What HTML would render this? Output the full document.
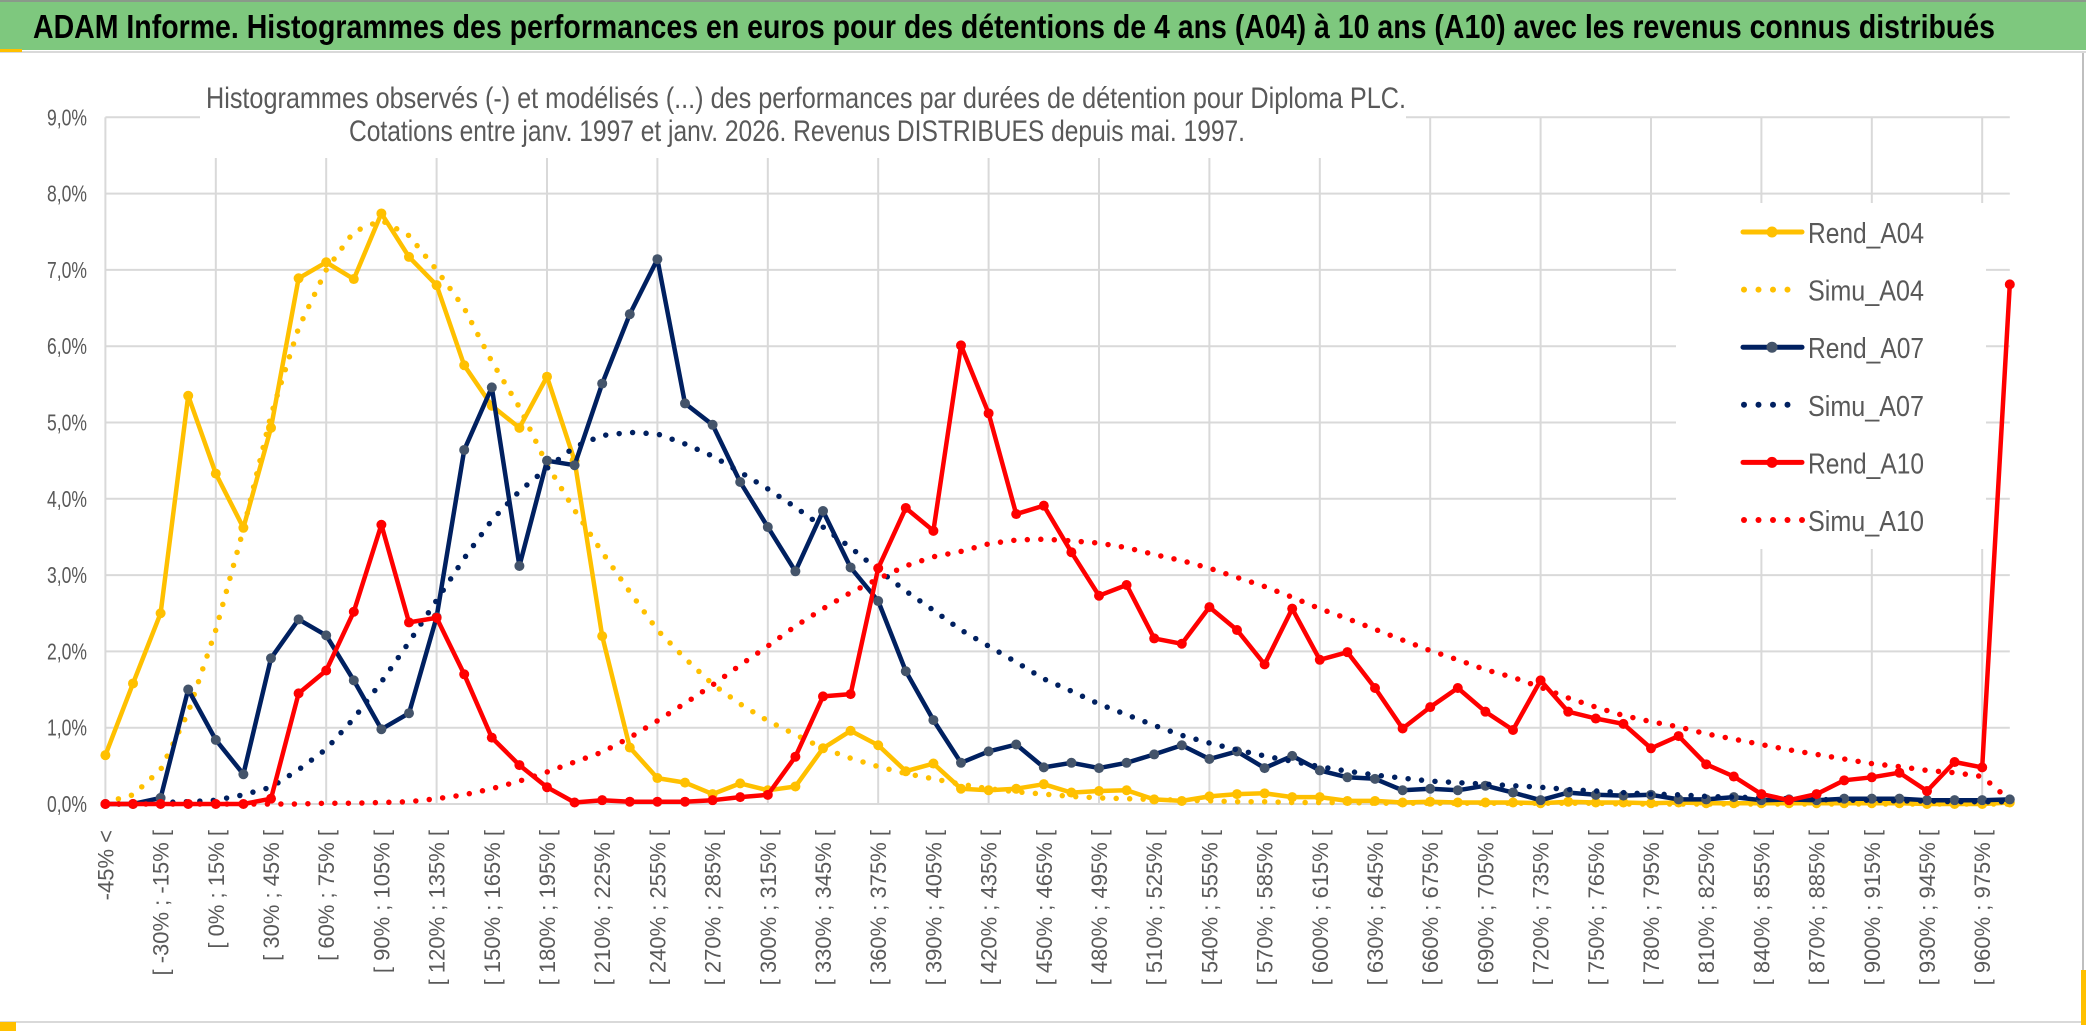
<!DOCTYPE html>
<html><head><meta charset="utf-8"><style>
html,body{margin:0;padding:0;background:#fff;}
svg{display:block;font-family:"Liberation Sans",sans-serif;}
</style></head><body>
<svg id="chart" width="2086" height="1031" viewBox="0 0 2086 1031" xmlns="http://www.w3.org/2000/svg">
<rect x="0" y="0" width="2086" height="50" fill="#7ec87e"/>
<rect x="0" y="0" width="2086" height="2" fill="#8a9a8a"/>
<rect x="0" y="51" width="2086" height="2" fill="#d9d9d9"/>
<rect x="0" y="49" width="22" height="3" fill="#ffc000"/>
<text x="33" y="38" font-size="33" font-weight="bold" fill="#000" textLength="1962" lengthAdjust="spacingAndGlyphs">ADAM Informe. Histogrammes des performances en euros pour des détentions de 4 ans (A04) à 10 ans (A10) avec les revenus connus distribués</text>
<g id="grid"></g>
<rect x="200" y="84" width="1206" height="74" fill="#fff"/>
<text x="206" y="108" font-size="30" fill="#595959" textLength="1200" lengthAdjust="spacingAndGlyphs">Histogrammes observés (-) et modélisés (...) des performances par durées de détention pour Diploma PLC.</text>
<text x="349" y="141" font-size="30" fill="#595959" textLength="896" lengthAdjust="spacingAndGlyphs">Cotations entre janv. 1997 et janv. 2026. Revenus DISTRIBUES depuis mai. 1997.</text>
<g id="yaxis"></g>
<g id="xaxis"></g>
<g id="series"></g>
<g id="legend"></g>
<line x1="2083" y1="53" x2="2083" y2="1022" stroke="#bfbfbf" stroke-width="2"/>
<line x1="0" y1="1022" x2="2083" y2="1022" stroke="#d9d9d9" stroke-width="2"/>
<rect x="0" y="1022" width="16" height="9" fill="#ffc000"/>
<rect x="2081" y="970" width="5" height="55" fill="#ffc000"/>
</svg>
<script>
const categories = ["-45% <","[ -45% ; -30% [","[ -30% ; -15% [","[ -15% ; 0% [","[ 0% ; 15% [","[ 15% ; 30% [","[ 30% ; 45% [","[ 45% ; 60% [","[ 60% ; 75% [","[ 75% ; 90% [",
"[ 90% ; 105% [","[ 105% ; 120% [","[ 120% ; 135% [","[ 135% ; 150% [","[ 150% ; 165% [","[ 165% ; 180% [","[ 180% ; 195% [","[ 195% ; 210% [","[ 210% ; 225% [","[ 225% ; 240% [",
"[ 240% ; 255% [","[ 255% ; 270% [","[ 270% ; 285% [","[ 285% ; 300% [","[ 300% ; 315% [","[ 315% ; 330% [","[ 330% ; 345% [","[ 345% ; 360% [","[ 360% ; 375% [","[ 375% ; 390% [",
"[ 390% ; 405% [","[ 405% ; 420% [","[ 420% ; 435% [","[ 435% ; 450% [","[ 450% ; 465% [","[ 465% ; 480% [","[ 480% ; 495% [","[ 495% ; 510% [","[ 510% ; 525% [","[ 525% ; 540% [",
"[ 540% ; 555% [","[ 555% ; 570% [","[ 570% ; 585% [","[ 585% ; 600% [","[ 600% ; 615% [","[ 615% ; 630% [","[ 630% ; 645% [","[ 645% ; 660% [","[ 660% ; 675% [","[ 675% ; 690% [",
"[ 690% ; 705% [","[ 705% ; 720% [","[ 720% ; 735% [","[ 735% ; 750% [","[ 750% ; 765% [","[ 765% ; 780% [","[ 780% ; 795% [","[ 795% ; 810% [","[ 810% ; 825% [","[ 825% ; 840% [",
"[ 840% ; 855% [","[ 855% ; 870% [","[ 870% ; 885% [","[ 885% ; 900% [","[ 900% ; 915% [","[ 915% ; 930% [","[ 930% ; 945% [","[ 945% ; 960% [","[ 960% ; 975% [","975% >="];
const yTicks = [0,1,2,3,4,5,6,7,8,9];
const yTickLabels = ["0,0%","1,0%","2,0%","3,0%","4,0%","5,0%","6,0%","7,0%","8,0%","9,0%"];
const rendA04 = [0.64,1.58,2.5,5.35,4.33,3.62,4.93,6.89,7.10,6.88,7.74,7.17,6.80,5.75,5.22,4.93,5.6,4.5,2.2,0.74,0.34,0.28,0.13,0.27,0.18,0.23,0.73,0.96,0.77,0.43,0.53,0.2,0.18,0.2,0.26,0.15,0.17,0.18,0.06,0.04,0.1,0.13,0.14,0.09,0.09,0.04,0.04,0.02,0.03,0.02,0.02,0.02,0.01,0.03,0.02,0.02,0.01,0.02,0.01,0.01,0.01,0.01,0.01,0.01,0.01,0.01,0.0,0.0,0.0,0.02];
const simuA04 = [0.02,0.12,0.45,1.2,2.28,3.6,5.1,6.24,7.0,7.5,7.65,7.45,7.0,6.5,5.8,5.2,4.45,3.85,3.3,2.78,2.28,1.91,1.57,1.31,1.09,0.91,0.73,0.6,0.49,0.4,0.33,0.26,0.2,0.16,0.13,0.1,0.08,0.07,0.06,0.05,0.04,0.03,0.03,0.02,0.02,0.02,0.01,0.01,0.01,0.01,0.01,0.01,0.01,0.01,0.01,0,0,0,0,0,0,0,0,0,0,0,0,0,0,0];
const rendA07 = [0,0,0.08,1.5,0.84,0.39,1.91,2.42,2.21,1.62,0.98,1.19,2.45,4.64,5.46,3.12,4.5,4.44,5.51,6.42,7.14,5.25,4.97,4.22,3.63,3.05,3.84,3.1,2.66,1.74,1.1,0.54,0.69,0.78,0.48,0.54,0.47,0.54,0.65,0.77,0.59,0.69,0.47,0.63,0.44,0.35,0.33,0.18,0.2,0.18,0.24,0.15,0.05,0.15,0.12,0.11,0.12,0.06,0.06,0.09,0.05,0.06,0.05,0.07,0.07,0.07,0.05,0.05,0.05,0.06];
const simuA07 = [0,0,0.02,0.03,0.05,0.12,0.22,0.45,0.72,1.12,1.6,2.12,2.67,3.22,3.72,4.1,4.4,4.68,4.83,4.87,4.85,4.72,4.56,4.35,4.13,3.89,3.63,3.36,3.07,2.79,2.54,2.28,2.07,1.86,1.64,1.48,1.31,1.17,1.03,0.9,0.8,0.71,0.63,0.56,0.49,0.43,0.38,0.34,0.3,0.28,0.26,0.24,0.22,0.19,0.17,0.15,0.13,0.12,0.1,0.09,0.08,0.07,0.06,0.05,0.05,0.04,0.04,0.03,0.03,0.03];
const rendA10 = [0,0,0,0,0,0,0.07,1.45,1.75,2.52,3.66,2.38,2.44,1.7,0.87,0.51,0.22,0.02,0.05,0.03,0.03,0.03,0.05,0.09,0.12,0.62,1.41,1.44,3.09,3.88,3.58,6.01,5.12,3.8,3.91,3.3,2.73,2.87,2.17,2.1,2.58,2.28,1.83,2.56,1.89,1.99,1.52,0.99,1.27,1.52,1.21,0.97,1.62,1.21,1.12,1.05,0.73,0.89,0.52,0.36,0.13,0.05,0.13,0.31,0.35,0.41,0.17,0.55,0.48,6.81];
const simuA10 = [0,0,0,0,0,0,0,0,0.01,0.01,0.02,0.03,0.07,0.12,0.2,0.3,0.42,0.55,0.68,0.87,1.09,1.32,1.56,1.82,2.07,2.33,2.56,2.77,2.95,3.12,3.24,3.31,3.41,3.46,3.47,3.45,3.42,3.36,3.27,3.19,3.09,2.97,2.85,2.71,2.56,2.43,2.29,2.15,2.01,1.89,1.76,1.66,1.53,1.39,1.27,1.16,1.08,1.01,0.92,0.85,0.78,0.71,0.65,0.59,0.53,0.49,0.44,0.41,0.36,0.05];

const NS = "http://www.w3.org/2000/svg";
const X0 = 105.4, DX = 27.6, Y0 = 804, DY = 76.3;
function xs(i){ return X0 + i*DX; }
function ys(v){ return Y0 - v*DY; }
function mk(tag, parent){ const e = document.createElementNS(NS, tag); parent.appendChild(e); return e; }

const grid = document.getElementById('grid');
const xRight = xs(categories.length-1);
yTicks.forEach(function(t){
  const l = mk('line', grid);
  
  
  l.setAttribute('x1', X0); l.setAttribute('x2', xRight);
  l.setAttribute('y1', ys(t)); l.setAttribute('y2', ys(t));
  l.setAttribute('stroke', '#d9d9d9'); l.setAttribute('stroke-width', '2');
});
for (let i = 0; i < categories.length; i += 4) {
  const l = mk('line', grid);
  
  
  l.setAttribute('x1', xs(i)); l.setAttribute('x2', xs(i));
  l.setAttribute('y1', ys(yTicks[yTicks.length-1])); l.setAttribute('y2', Y0);
  l.setAttribute('stroke', '#d9d9d9'); l.setAttribute('stroke-width', '2');
}
const lgbg = mk('rect', grid);


lgbg.setAttribute('x', 1676); lgbg.setAttribute('y', 203);
lgbg.setAttribute('width', 310); lgbg.setAttribute('height', 346);
lgbg.setAttribute('fill', '#fff');

const ya = document.getElementById('yaxis');
yTicks.forEach(function(t, k){
  const tx = mk('text', ya);
  
  
  tx.setAttribute('x', 87); tx.setAttribute('y', ys(t) + 8);
  tx.setAttribute('text-anchor', 'end');
  tx.setAttribute('font-size', '23');
  tx.setAttribute('fill', '#595959');
  tx.setAttribute('textLength', '40');
  tx.setAttribute('lengthAdjust', 'spacingAndGlyphs');
  tx.textContent = yTickLabels[k];
});
const xa = document.getElementById('xaxis');
categories.forEach(function(c, i){
  if (i % 2 !== 0) return;
  const tx = mk('text', xa);
  
  
  tx.setAttribute('transform', 'translate(' + (xs(i) + 8) + ',830) rotate(-90)');
  tx.setAttribute('text-anchor', 'end');
  tx.setAttribute('font-size', '22');
  tx.setAttribute('fill', '#595959');
  tx.textContent = c;
});

const sg = document.getElementById('series');
function pts(arr){ return arr.map(function(v, i){ return xs(i).toFixed(1) + ',' + ys(v).toFixed(1); }).join(' '); }
function solid(arr, color, mfill, name){
  const g = mk('g', sg);
  
  
  const p = mk('polyline', g);
  
  
  p.setAttribute('points', pts(arr));
  p.setAttribute('fill', 'none'); p.setAttribute('stroke', color);
  p.setAttribute('stroke-width', '4.5'); p.setAttribute('stroke-linejoin', 'round');
  arr.forEach(function(v, i){
    const c = mk('circle', g);
    
    
    c.setAttribute('cx', xs(i)); c.setAttribute('cy', ys(v)); c.setAttribute('r', '5');
    c.setAttribute('fill', mfill);
  });
}
function dotted(arr, color, name){
  const p = mk('polyline', sg);
  
  
  p.setAttribute('points', pts(arr));
  p.setAttribute('fill', 'none'); p.setAttribute('stroke', color);
  p.setAttribute('stroke-width', '5.5'); p.setAttribute('stroke-linecap', 'round');
  p.setAttribute('stroke-dasharray', '0 13.5');
}
solid(rendA04, '#ffc000', '#ffc000', 'rend-a04');
dotted(simuA04, '#ffc000', 'simu-a04');
solid(rendA07, '#002060', '#44546a', 'rend-a07');
dotted(simuA07, '#002060', 'simu-a07');
solid(rendA10, '#ff0000', '#ff0000', 'rend-a10');
dotted(simuA10, '#ff0000', 'simu-a10');

const lg = document.getElementById('legend');
const legendItems = [
  ['Rend_A04', '#ffc000', '#ffc000', false, 4],
  ['Simu_A04', '#ffc000', null, true, 4],
  ['Rend_A07', '#002060', '#44546a', false, 4],
  ['Simu_A07', '#002060', null, true, 4],
  ['Rend_A10', '#ff0000', '#ff0000', false, 4],
  ['Simu_A10', '#ff0000', null, true, 5]
];
legendItems.forEach(function(it, k){
  const by = 242 + k*57.6, cy = by - 10;
  const g = mk('g', lg);
  
  
  if (!it[3]) {
    const l = mk('line', g);
    
    
    l.setAttribute('x1', 1743); l.setAttribute('x2', 1802);
    l.setAttribute('y1', cy); l.setAttribute('y2', cy);
    l.setAttribute('stroke', it[1]); l.setAttribute('stroke-width', '5'); l.setAttribute('stroke-linecap', 'round');
    const c = mk('circle', g);
    
    
    c.setAttribute('cx', 1772); c.setAttribute('cy', cy); c.setAttribute('r', '5.5'); c.setAttribute('fill', it[2]);
  } else {
    for (let d = 0; d < it[4]; d++) {
      const c = mk('circle', g);
      
      
      c.setAttribute('cx', 1744 + d*14.5); c.setAttribute('cy', cy); c.setAttribute('r', '3');
      c.setAttribute('fill', it[1]);
    }
  }
  const t = mk('text', g);
  
  
  t.setAttribute('x', 1808); t.setAttribute('y', by + 1);
  t.setAttribute('font-size', '29'); t.setAttribute('fill', '#595959');
  t.setAttribute('textLength', '116'); t.setAttribute('lengthAdjust', 'spacingAndGlyphs');
  t.textContent = it[0];
});
</script>
</body></html>
